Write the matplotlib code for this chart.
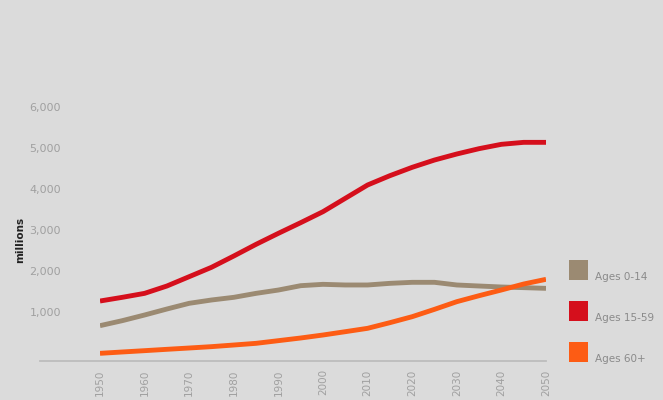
import matplotlib
matplotlib.use('Agg')
import matplotlib.pyplot as plt
import matplotlib.transforms as mtransforms
from matplotlib.patches import Rectangle
from matplotlib.lines import Line2D

years = list(range(1950, 2051, 5))
ages_0_14 = [862, 984, 1122, 1268, 1407, 1488, 1553, 1650, 1731, 1837, 1870,
             1854, 1854, 1894, 1919, 1919, 1854, 1829, 1805, 1789, 1772]
ages_15_59 = [1463, 1553, 1650, 1829, 2057, 2285, 2561, 2846, 3114, 3374, 3642,
              3968, 4293, 4520, 4724, 4902, 5049, 5179, 5285, 5333, 5333]
ages_60 = [187, 220, 252, 285, 317, 350, 390, 431, 496, 561, 634,
           715, 797, 935, 1081, 1260, 1447, 1593, 1732, 1878, 1992]

series_names = ['Ages 0-14', 'Ages 15-59', 'Ages 60+']
series_colors = ['#9b8a72', '#d50f1c', '#fd5c14']
xticks = list(range(1950, 2051, 10))
yticks = [1000, 2000, 3000, 4000, 5000, 6000]
ytick_labels = ['1,000', '2,000', '3,000', '4,000', '5,000', '6,000']

bg = '#dbdbdb'
fig = plt.figure(figsize=(6.63, 4.0), dpi=100, facecolor=bg)
ax = fig.add_axes([100 / 663, 39 / 400, 446 / 663, 266.5 / 400], facecolor=bg)

for vals, col in zip([ages_0_14, ages_15_59, ages_60], series_colors):
    ax.plot(years, vals, color=col, lw=3.5, solid_capstyle='butt', solid_joinstyle='round')

ax.set_xlim(1950, 2050)
ax.set_ylim(0, 6500)
for s in ax.spines.values():
    s.set_visible(False)

ax.set_xticks(xticks)
ax.set_xticklabels([str(x) for x in xticks], rotation=90, fontsize=7.5, color='#a0a0a0')
ax.set_yticks(yticks)
ax.set_yticklabels(ytick_labels, fontsize=8, color='#a0a0a0')
ax.tick_params(axis='both', length=0)
ax.tick_params(axis='x', pad=6)
ax.tick_params(axis='y', pad=28)
for lab in ax.get_yticklabels():
    lab.set_transform(lab.get_transform() + mtransforms.ScaledTranslation(0, 8 / 100, fig.dpi_scale_trans))

# base line extends left beyond the plotting area
ax.add_line(Line2D([-0.135, 1.0], [0, 0], transform=ax.transAxes, color='#bdbdbd',
                   lw=1.3, clip_on=False))

fig.text(20 / 663, 1 - 240 / 400, 'millions', rotation=90, fontsize=7.5,
         fontweight='bold', color='#222222', ha='center', va='center')

# legend
for i, (name, col) in enumerate(zip(series_names, series_colors)):
    top = 260 + i * 41
    fig.patches.append(Rectangle((569 / 663, 1 - (top + 20) / 400), 19 / 663, 20 / 400,
                                 transform=fig.transFigure, facecolor=col, edgecolor='none'))
    fig.text(595 / 663, 1 - (top + 17) / 400, name, fontsize=7.5, color='#8a8a8a',
             ha='left', va='center')

fig.savefig('out.png', dpi=100, facecolor=bg)
